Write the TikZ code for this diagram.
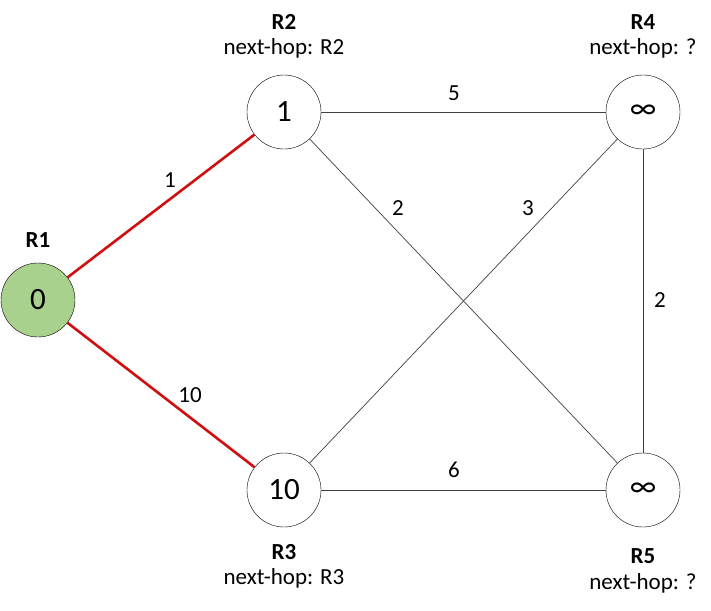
\documentclass[tikz,border=0pt]{standalone}
\usepackage{fontspec}
\setmainfont{Carlito}
\usetikzlibrary{positioning}
\definecolor{NodeGreen}{HTML}{A9D18E}
\definecolor{PathRed}{HTML}{D01010}
\definecolor{EdgeGray}{HTML}{404040}

\begin{document}
\begin{tikzpicture}[x=1pt,y=-1pt]
    \tikzset{rt/.style={circle,draw,minimum size=74pt,inner sep=0pt,font=\fontsize{31}{34}\selectfont},
      lbl/.style={font=\fontsize{23}{26}\selectfont,inner sep=1pt},
      link/.style={draw=EdgeGray,line width=0.7pt},
      best/.style={draw=PathRed,line width=2.6pt}}
    \useasboundingbox (0,0) rectangle (711,610);
    % routers
    \node[rt,fill=NodeGreen] (r1) at (38,300) {0};
    \node[rt] (r2) at (284,112) {1};
    \node[rt] (r4) at (643,112) {∞};
    \node[rt] (r3) at (284,490) {10};
    \node[rt] (r5) at (643,490) {∞};
    % names and next hops
    \node[lbl] (n1) at (38,240) {\textbf{R1}};
    \node[lbl] (n2) at (284,22) {\textbf{R2}};
    \node[lbl] (h2) at (284,48) {next-hop: R2};
    \node[lbl] (n4) at (643,22) {\textbf{R4}};
    \node[lbl] (h4) at (643,48) {next-hop: ?};
    \node[lbl] (n3) at (284,552) {\textbf{R3}};
    \node[lbl] (h3) at (284,578) {next-hop: R3};
    \node[lbl] (n5) at (643,556) {\textbf{R5}};
    \node[lbl] (h5) at (643,583) {next-hop: ?};
    % links
    \draw[best] (r1) -- (r2);
    \draw[best] (r1) -- (r3);
    \draw[link] (r2) -- (r4);
    \draw[link] (r2) -- (r5);
    \draw[link] (r3) -- (r4);
    \draw[link] (r4) -- (r5);
    \draw[link] (r3) -- (r5);
    % costs
    \node[lbl] (c12) at (170,180) {1};
    \node[lbl] (c13) at (190,395) {10};
    \node[lbl] (c24) at (454,93) {5};
    \node[lbl] (c25) at (398,208) {2};
    \node[lbl] (c34) at (528,208) {3};
    \node[lbl] (c45) at (660,300) {2};
    \node[lbl] (c35) at (454,470) {6};
\end{tikzpicture}
\end{document}
